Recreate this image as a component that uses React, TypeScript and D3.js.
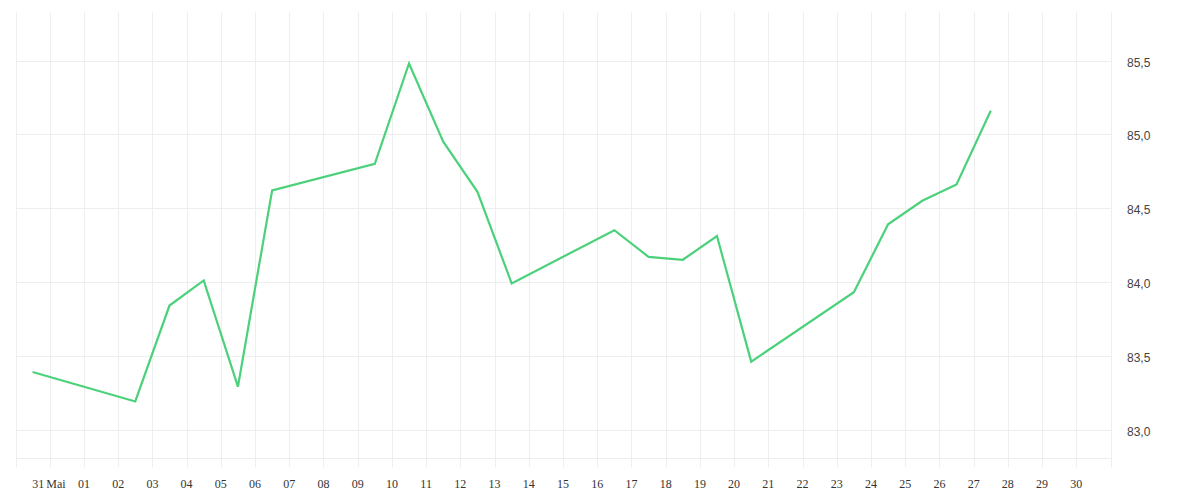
import { useRef, useEffect } from 'react'
import * as d3 from 'd3'

// trading days (UTC), one close value per day
const dates = [
	'2022-04-29',
	'2022-05-02', '2022-05-03', '2022-05-04', '2022-05-05', '2022-05-06',
	'2022-05-09', '2022-05-10', '2022-05-11', '2022-05-12', '2022-05-13',
	'2022-05-16', '2022-05-17', '2022-05-18', '2022-05-19', '2022-05-20',
	'2022-05-23', '2022-05-24', '2022-05-25', '2022-05-26', '2022-05-27',
]
const values = [
	83.39,
	83.19, 83.84, 84.01, 83.29, 84.62,
	84.8, 85.48, 84.95, 84.61, 83.99,
	84.35, 84.17, 84.15, 84.31, 83.46,
	83.93, 84.39, 84.55, 84.66, 85.16,
]
const yTicks = [83, 83.5, 84, 84.5, 85, 85.5]
const monthLabel = 'Mai'
const prevMonthLabel = '31'

const width = 1200
const height = 500

const App = () => {
	const svgRef = useRef<SVGSVGElement | null>(null)

	useEffect(() => {
		if (!svgRef.current) return
		const svg = d3.select(svgRef.current)
		svg.selectAll('*').remove()

		const start = new Date(Date.UTC(2022, 3, 29))
		const end = new Date(Date.UTC(2022, 4, 31))
		const plotTop = 12
		const plotBottom = 458.5

		const x = d3.scaleUtc().domain([start, end]).range([15.5, 1110.5])
		const y = d3.scaleLinear().domain([83, 85.5]).range([429.5, 60.5])

		const locale = d3.formatLocale({
			decimal: ',',
			thousands: '.',
			grouping: [3],
			currency: ['', ' €'],
		})
		const fmt = locale.format('.1f')

		const grid = svg.append('g').attr('stroke', '#eeeeee').attr('stroke-width', 1)
		const days = d3.utcDay.range(start, d3.utcDay.offset(end, 1))

		// vertical grid, extending a little below the plot as ticks
		grid
			.selectAll('line.v')
			.data(days)
			.enter()
			.append('line')
			.attr('x1', (d) => Math.round(x(d)) + 0.5)
			.attr('x2', (d) => Math.round(x(d)) + 0.5)
			.attr('y1', plotTop)
			.attr('y2', 467)

		// horizontal grid
		grid
			.selectAll('line.h')
			.data(yTicks)
			.enter()
			.append('line')
			.attr('x1', x(start))
			.attr('x2', x(end))
			.attr('y1', (d) => Math.round(y(d)) + 0.5)
			.attr('y2', (d) => Math.round(y(d)) + 0.5)

		grid
			.append('line')
			.attr('x1', x(start))
			.attr('x2', x(end))
			.attr('y1', plotBottom)
			.attr('y2', plotBottom)

		// y labels on the right
		svg
			.append('g')
			.selectAll('text')
			.data(yTicks)
			.enter()
			.append('text')
			.attr('x', 1127)
			.attr('y', (d) => y(d) + 6)
			.attr('font-family', '"Liberation Sans", Arial, sans-serif')
			.attr('font-size', 12)
			.attr('fill', '#444')
			.text((d) => fmt(d))

		// x labels: day of month at midnight
		const xLabels = svg
			.append('g')
			.attr('font-size', 12)
			.attr('fill', '#333')
		const mayDays = days.filter((d) => d.getUTCMonth() === 4 && d < end)
		xLabels
			.selectAll('text')
			.data(mayDays)
			.enter()
			.append('text')
			.attr('x', (d) => x(d))
			.attr('y', 488)
			.attr('text-anchor', 'middle')
			.text((d) => d3.utcFormat('%d')(d))

		const apr30 = d3.utcDay.offset(start, 1)
		xLabels
			.append('text')
			.attr('x', x(apr30) - 5.5)
			.attr('y', 488)
			.attr('text-anchor', 'end')
			.text(prevMonthLabel)
		xLabels
			.append('text')
			.attr('x', x(apr30) - 3.5)
			.attr('y', 488)
			.attr('text-anchor', 'start')
			.text(monthLabel)

		// price line at mid-day
		const points = dates.map((d, i) => ({
			t: new Date(Date.parse(d + 'T12:00:00Z')),
			v: values[i],
		}))
		const line = d3
			.line<{ t: Date; v: number }>()
			.x((d) => x(d.t))
			.y((d) => y(d.v))

		svg
			.append('path')
			.datum(points)
			.attr('fill', 'none')
			.attr('stroke', '#4ad17a')
			.attr('stroke-width', 2.2)
			.attr('stroke-linejoin', 'miter')
			.attr('d', line)
	}, [])

	return (
		<div style={{ position: 'absolute', left: 0, top: 0 }}>
			<svg ref={svgRef} width={width} height={height}></svg>
		</div>
	)
}

export default App
